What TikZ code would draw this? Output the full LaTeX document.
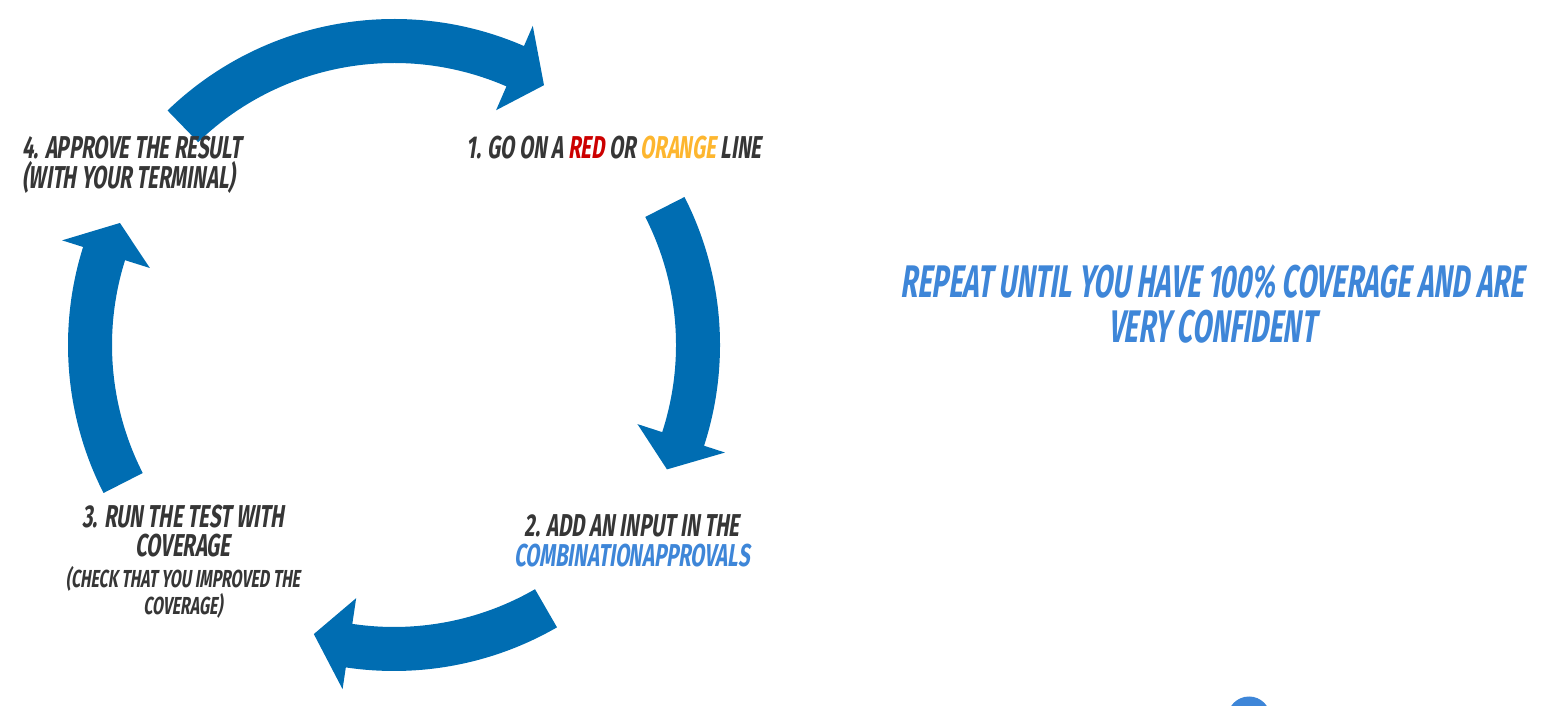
\documentclass[tikz,border=0pt]{standalone}
\usepackage{fontspec}
\newfontfamily\handfont{Fira Sans}[FakeStretch=0.64,FakeSlant=0.15]
\newfontfamily\notefont{Fira Sans}[FakeStretch=0.6,FakeSlant=0.15]
\definecolor{cycleblue}{HTML}{006DB2}
\definecolor{labelgrey}{HTML}{363636}
\definecolor{linered}{HTML}{CC0000}
\definecolor{lineorange}{HTML}{FDB62F}
\definecolor{noteblue}{HTML}{3E86D8}
% one curved arrow of the cycle: tail angle, head base angle, tip angle
\newcommand{\cyclearrow}[3]{%
  \fill[cycleblue] (#1:326) arc[start angle=#1,end angle=#2,radius=326]
    -- (#2:348) -- (#3:300) -- (#2:256) -- (#2:282)
    arc[start angle=#2,end angle=#1,radius=282] -- cycle;}

\begin{document}
\begin{tikzpicture}[x=0.02cm,y=0.02cm,
    steplabel/.style={text=labelgrey,inner sep=0pt,align=center,
      font=\handfont\bfseries\fontsize{18}{17}\selectfont},
    notelabel/.style={text=noteblue,inner sep=0pt,align=center,
      font=\notefont\bfseries\fontsize{26}{26}\selectfont}]
  \useasboundingbox (0,0) rectangle (1551,706);
  \begin{scope}[shift={(394,361)}]
    \cyclearrow{134}{66.5}{60}
    \cyclearrow{27}{-18}{-24.5}
    \cyclearrow{-60}{-98.5}{-105.5}
    \cyclearrow{207}{162.5}{156}
  \end{scope}
  \node[steplabel] (goline) at (614,558)
    {1. GO ON A \textcolor{linered}{RED} OR \textcolor{lineorange}{ORANGE} LINE};
  \node[steplabel] (addinput) at (632,165)
    {2. ADD AN INPUT IN THE\\\textcolor{noteblue}{COMBINATIONAPPROVALS}};
  \node[steplabel] (runtest) at (183,175) {3. RUN THE TEST WITH\\COVERAGE};
  \node[steplabel,font=\handfont\bfseries\fontsize{14}{12.5}\selectfont]
    (checknote) at (183,114) {(CHECK THAT YOU IMPROVED THE\\COVERAGE)};
  \node[steplabel,align=left,anchor=west] (approve) at (22,541)
    {4. APPROVE THE RESULT\\(WITH YOUR TERMINAL)};
  \node[notelabel] (repeat) at (1212,402)
    {REPEAT UNTIL YOU HAVE 100\% COVERAGE AND ARE\\VERY CONFIDENT};
  \fill[noteblue] (1249,-12) circle (21.5);
\end{tikzpicture}
\end{document}
